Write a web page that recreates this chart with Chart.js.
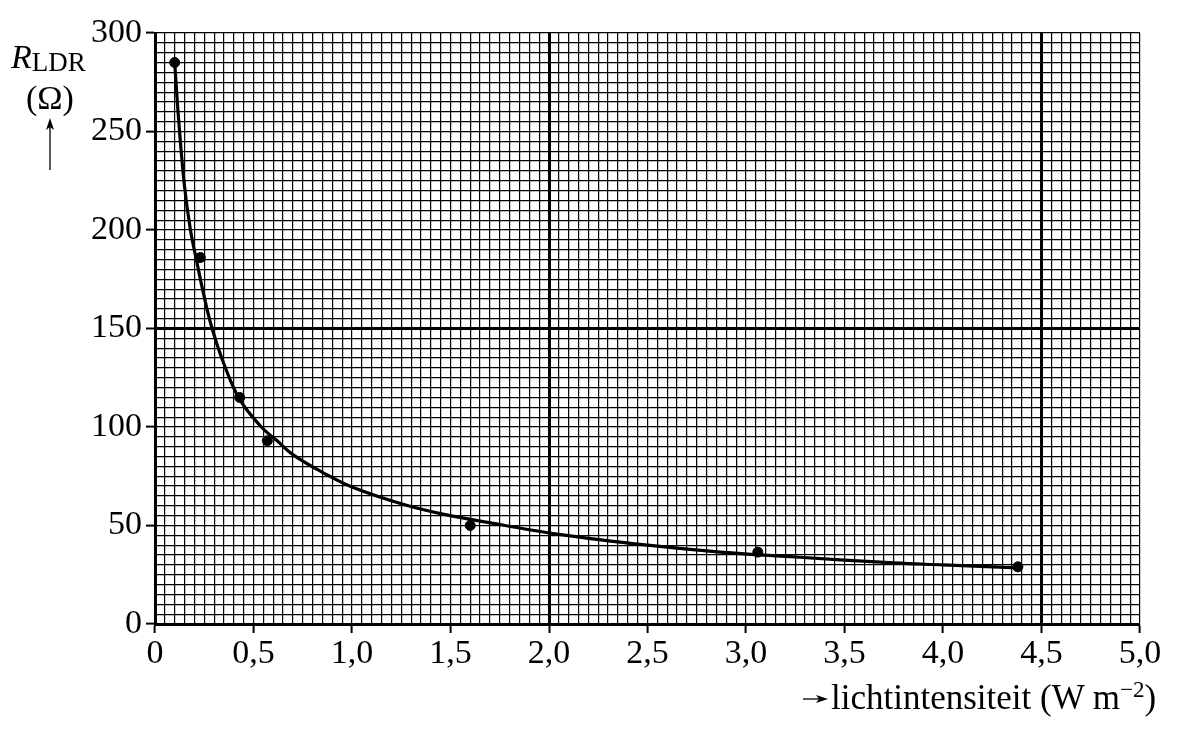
<!DOCTYPE html>
<html>
<head>
<meta charset="utf-8">
<script src="https://cdn.jsdelivr.net/npm/chart.js@4"></script>
<style>
  body { margin: 0; background: #fff; }
  #wrap { position: relative; width: 1186px; height: 739px; font-family: 'Liberation Serif', serif; color: #000; }
  canvas { position: absolute; left: 0; top: 0; }
  .lbl { position: absolute; white-space: nowrap; line-height: 1; }
</style>
</head>
<body>
<div id="wrap">
  <canvas id="chart" width="1186" height="739"></canvas>
  <div class="lbl" style="left:11px; top:40px; font-size:34px"><i>R</i><span style="font-size:27px; position:relative; top:3px">LDR</span></div>
  <div class="lbl" style="left:26px; top:81px; font-size:34px">(Ω)</div>
  <div class="lbl" style="left:831px; top:680px; font-size:35px">lichtintensiteit (W m<sup style="font-size:23px; vertical-align:0; position:relative; top:-12px">−2</sup>)</div>
</div>
<script>
// measured points (lichtintensiteit in W m^-2, R in ohm)
const intensity = [0.10, 0.23, 0.43, 0.57, 1.60, 3.06, 4.38]
const resistance = [285, 186, 115, 93, 50, 36.5, 29]

// fitted curve
const curveX = [0.10, 0.12, 0.15, 0.18, 0.21, 0.25, 0.29, 0.35, 0.43, 0.54, 0.62, 0.70, 0.85, 1.00, 1.25, 1.45, 1.75, 2.05, 2.50, 2.87, 3.25, 3.75, 4.00, 4.38]
const curveY = [285, 256, 222, 200, 185, 166, 150, 132, 114, 100, 93, 86, 77, 69.5, 61, 56, 50.5, 45.5, 40, 36.5, 34, 31, 30, 28.5]

const xMajor = [2.0, 4.5]
const yMajor = [150]

const isStep = (v, s) => Math.abs(v / s - Math.round(v / s)) < 1e-6
const isIn = (v, list) => list.some(m => Math.abs(m - v) < 1e-6)

// ─── arrows next to axis titles ───────────────────────────
const arrows = {
    id: 'arrows',
    afterDraw(chart) {
        const ctx = chart.ctx
        ctx.save()
        ctx.strokeStyle = '#000'
        ctx.fillStyle = '#000'
        ctx.lineWidth = 1.3
        // y title arrow (up)
        ctx.beginPath(); ctx.moveTo(50, 170); ctx.lineTo(50, 126); ctx.stroke()
        ctx.beginPath(); ctx.moveTo(50, 118); ctx.lineTo(46, 130); ctx.lineTo(50, 127); ctx.lineTo(54, 130); ctx.closePath(); ctx.fill()
        // x title arrow (right)
        ctx.beginPath(); ctx.moveTo(803, 699); ctx.lineTo(820, 699); ctx.stroke()
        ctx.beginPath(); ctx.moveTo(828, 699); ctx.lineTo(816, 695); ctx.lineTo(819, 699); ctx.lineTo(816, 703); ctx.closePath(); ctx.fill()
        ctx.restore()
    }
}

new Chart(document.getElementById('chart'), {
    type: 'scatter',
    data: {
        datasets: [
            {
                data: curveX.map((x, i) => ({ x, y: curveY[i] })),
                showLine: true,
                borderColor: '#000',
                borderWidth: 3.2,
                pointRadius: 0,
                tension: 0.4
            },
            {
                data: intensity.map((x, i) => ({ x, y: resistance[i] })),
                backgroundColor: '#000',
                borderColor: '#000',
                pointRadius: 5
            }
        ]
    },
    options: {
        responsive: false,
        animation: false,
        layout: { padding: { top: 33, right: 46, left: 0, bottom: 0 } },
        plugins: { legend: { display: false }, tooltip: { enabled: false } },
        scales: {
            x: {
                type: 'linear',
                min: 0, max: 5,
                afterFit: s => { s.height = 115 },
                border: { color: '#000', width: 3 },
                grid: {
                    color: '#000',
                    lineWidth: c => isIn(c.tick.value, xMajor) ? 3 : 1.2,
                    tickColor: c => isStep(c.tick.value, 0.5) ? '#000' : 'rgba(0,0,0,0)',
                    tickWidth: 2,
                    tickLength: 9
                },
                ticks: {
                    stepSize: 0.05,
                    autoSkip: false,
                    maxRotation: 0,
                    padding: 1,
                    color: '#000',
                    font: { family: 'Liberation Serif', size: 34 },
                    callback: v => isStep(v, 0.5) ? (v === 0 ? '0' : v.toFixed(1).replace('.', ',')) : ''
                }
            },
            y: {
                min: 0, max: 300,
                afterFit: s => { s.width = 155 },
                border: { color: '#000', width: 3 },
                grid: {
                    color: '#000',
                    lineWidth: c => isIn(c.tick.value, yMajor) ? 3 : 1.2,
                    tickColor: c => isStep(c.tick.value, 50) ? '#000' : 'rgba(0,0,0,0)',
                    tickWidth: 2,
                    tickLength: 9
                },
                ticks: {
                    stepSize: 5,
                    autoSkip: false,
                    padding: 4,
                    color: '#000',
                    font: { family: 'Liberation Serif', size: 34 },
                    callback: v => isStep(v, 50) ? String(Math.round(v)) : ''
                }
            }
        }
    },
    plugins: [arrows]
})
</script>
</body>
</html>
